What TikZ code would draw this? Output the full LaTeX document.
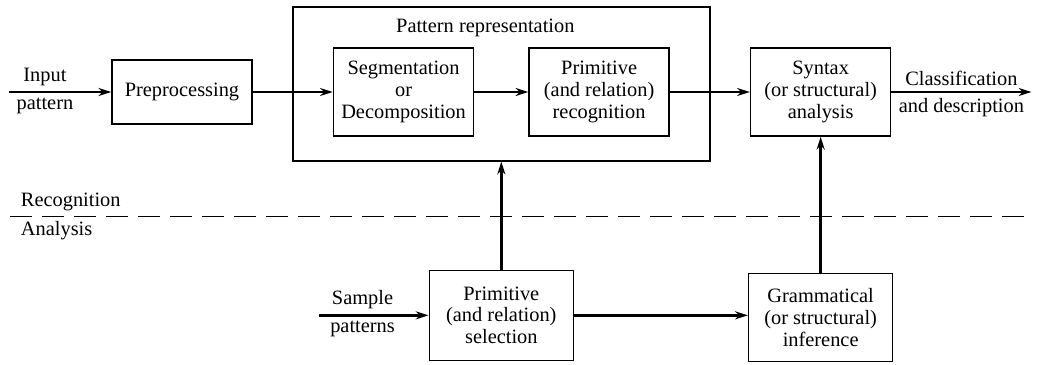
\documentclass[tikz,border=0pt]{standalone}
\usepackage{fontspec}
\setmainfont{Liberation Serif}
\usepackage{tikz}
\usetikzlibrary{arrows.meta,positioning,fit}

\begin{document}
\begin{tikzpicture}[
    x=0.25mm, y=-0.25mm,
    font=\fontsize{14.5}{15.5}\selectfont,
    box/.style={draw, line width=1.1pt, align=center, minimum width=35mm, minimum height=22mm, inner sep=2pt},
    flow/.style={-{Stealth[length=3.2mm,width=2mm]}, line width=2.1pt},
    node distance=10mm
  ]
    \useasboundingbox (0,0) rectangle (1037,364);
    \node[box, minimum height=16mm] (pre) at (182,92) {Preprocessing};
    \node[box, right=20mm of pre] (seg) {Segmentation\\or\\Decomposition};
    \node[box, right=13.5mm of seg] (prim) {Primitive\\(and relation)\\recognition};
    \node[box, right=20mm of prim] (syn) {Syntax\\(or structural)\\analysis};
    \coordinate[above=4mm of seg.north] (reptop);
    \node[draw, line width=1.1pt, fit=(seg)(prim)(reptop), inner xsep=10mm, inner ysep=6mm] (rep) {};
    \node[below=2mm of rep.north, xshift=-4mm] (title) {Pattern representation};
    \node[box, minimum width=36mm, minimum height=22.5mm, below=27mm of rep] (sel) {Primitive\\(and relation)\\selection};
    \node[box, minimum width=36mm, below=34mm of syn] (gram) {Grammatical\\(or structural)\\inference};
    \coordinate[left=25.5mm of pre.west] (inp);
    \coordinate[right=35mm of syn.east] (outp);
    \coordinate[left=27.5mm of sel.west] (smp);

    % recognition / analysis split
    \draw[dash pattern=on 5.5mm off 2.5mm, line width=0.7pt] (10,216) -- (1027,216);
    \node[anchor=south west] (recog) at (16,216) {Recognition};
    \node[anchor=north west] (anal) at (16,216) {Analysis};

    \draw[flow] (inp) -- node[above, pos=0.35]{Input} node[below, pos=0.35]{pattern} (pre);
    \draw[flow] (pre) -- (seg);
    \draw[flow] (seg) -- (prim);
    \draw[flow] (prim) -- (syn);
    \draw[flow] (syn) -- node[above]{Classification} node[below]{and description} (outp);
    \draw[flow] (smp) -- node[above, pos=0.4]{Sample} node[below, pos=0.4]{patterns} (sel);
    \draw[flow] (sel) -- (rep);
    \draw[flow] (sel) -- (sel -| gram.west);
    \draw[flow] (gram) -- (syn);
  \end{tikzpicture}
\end{document}
